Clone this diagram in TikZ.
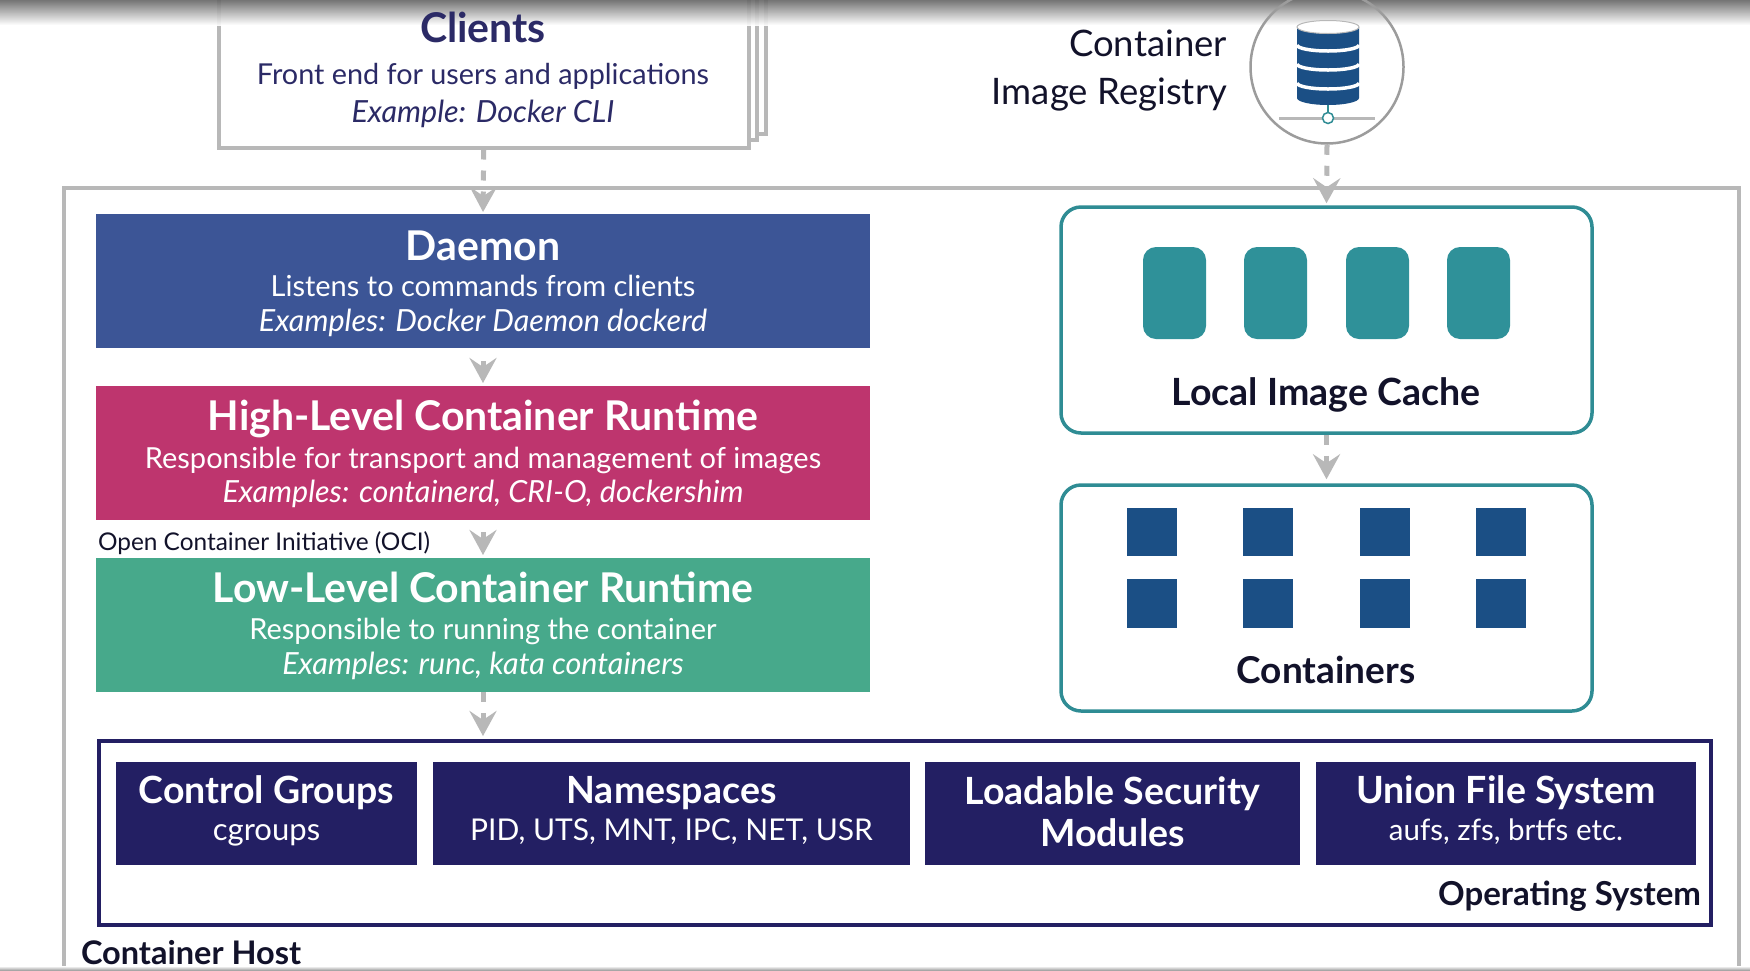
\documentclass[tikz,border=0pt]{standalone}
\usepackage{fontspec}
\setmainfont{Lato}
\usetikzlibrary{arrows.meta,shapes.geometric,fadings}
\definecolor{navy}{HTML}{231F63}
\definecolor{inktext}{HTML}{12122A}
\definecolor{clientink}{HTML}{2B2A66}
\definecolor{daemonblue}{HTML}{3C5596}
\definecolor{highred}{HTML}{BE356E}
\definecolor{lowgreen}{HTML}{47A98B}
\definecolor{tealc}{HTML}{2F8C94}
\definecolor{tealfill}{HTML}{2F9199}
\definecolor{sqblue}{HTML}{1B4F85}
\definecolor{arrowgray}{HTML}{B8B8B8}
\newcommand{\fsz}[2]{\fontsize{#1}{#2}\selectfont}
\newcommand{\ttl}[1]{{\fsz{41}{46}\bfseries #1}}
\newcommand{\sbt}[1]{{\fsz{29}{34}#1}}
\newcommand{\exm}[1]{{\fsz{30.5}{34}\itshape #1}}
\newcommand{\ostl}[1]{{\fsz{37.5}{42}\bfseries #1}}
\tikzset{
  x=1pt,y=-1pt,
  box/.style={draw=none,inner sep=0pt,outer sep=0pt,align=center,text=white,minimum width=#1,font=\fsz{29}{34.5}},
  paper/.style={draw=arrowgray,line width=3.5pt,fill=white},
  tealbox/.style={draw=tealc,line width=3.5pt,rounded corners=20pt,fill=white},
  cachecell/.style={fill=tealfill,rounded corners=13pt},
  ctrcell/.style={fill=sqblue},
  oscell/.style={fill=navy,inner sep=0pt,minimum height=103pt},
  ostext/.style={text=white,align=center,inner sep=0pt,font=\fsz{30}{37}},
  flow/.style={draw=arrowgray,line width=5pt,-{Stealth[length=25pt,width=27pt,inset=9pt]}},
  dashedflow/.style={flow,dash pattern=on 10pt off 11pt},
  lbl/.style={inner sep=0pt,outer sep=0pt},
}
\begin{document}
\begin{tikzpicture}
\useasboundingbox (0,0) rectangle (1750,970);
\fill[white] (0,0) rectangle (1750,970);
% host frame
\draw[draw=arrowgray,line width=3.5pt] (64,975) -- (64,188) -- (1739,188) -- (1739,975);
\node[lbl,anchor=base west,text=inktext,font=\fsz{32.5}{36}\bfseries] (hostlabel) at (81,964) {Container Host};
% clients stack
\draw[paper] (238,-10) rectangle (766,134);
\draw[paper] (228,-10) rectangle (757,140);
\node[paper,anchor=north west,minimum width=530pt,minimum height=156pt,inner sep=0pt] (clients) at (217,-10) {};
% camera shade
\shade[top color=black!60,bottom color=white,draw=none,opacity=.9] (0,0) rectangle (1750,25);
\shade[top color=white,bottom color=black!35,draw=none] (0,966) rectangle (1750,970);
\node[lbl,align=center,text=clientink,font=\fsz{29}{38}] (clientstext) at (483,70) {{\fsz{41}{46}\bfseries Clients}\\[4.7pt]{\fsz{28.8}{38}Front end for users and applications}\\{\fsz{30.5}{38}\itshape Example: Docker CLI}};
% registry
\node[circle,draw=arrowgray!85!black,line width=2.5pt,minimum size=153pt,inner sep=0pt] (registry) at (1327,67) {};
\node[lbl,anchor=east,align=right,text=inktext,font=\fsz{36.5}{48}] (registrytext) at (1227,71) {Container\\Image Registry};
\fill[sqblue] (1297,27) -- (1297,98) arc[start angle=180,end angle=360,x radius=31,y radius=-7] -- (1359,27) -- cycle;
\foreach \yy in {45,64,83}{
  \draw[white,line width=3.5pt] (1297,\yy) arc[start angle=180,end angle=360,x radius=31,y radius=-6];
}
\draw[arrowgray,fill=white,line width=1pt] (1328,27) ellipse[x radius=31,y radius=6.5];
\draw[arrowgray,line width=3pt] (1279,118) -- (1375,118);
\draw[tealc,line width=2pt] (1328,105) -- (1328,113);
\node[circle,draw=tealc,line width=1.5pt,fill=white,minimum size=11pt,inner sep=0pt] (port) at (1328,118) {};
% left column
\node[box=774pt,fill=daemonblue,minimum height=134pt] (daemon) at (483,281) {};
\node[lbl,align=center,text=white,font=\fsz{29}{34.5}] (daemontext) at (483,283.75) {\ttl{Daemon}\\[2pt]\sbt{Listens to commands from clients}\\\exm{Examples: Docker Daemon dockerd}};
\node[box=774pt,fill=highred,minimum height=134pt] (high) at (483,453) {};
\node[lbl,align=center,text=white,font=\fsz{29}{34.5}] (hightext) at (483,454.25) {\ttl{High-Level Container Runtime}\\[3pt]\sbt{Responsible for transport and management of images}\\\exm{Examples: containerd, CRI-O, dockershim}};
\node[box=774pt,fill=lowgreen,minimum height=134pt] (low) at (483,625) {};
\node[lbl,align=center,text=white,font=\fsz{29}{34.5}] (lowtext) at (483,625.5) {\ttl{Low-Level Container Runtime}\\[3pt]\sbt{Responsible to running the container}\\\exm{Examples: runc, kata containers}};
\node[lbl,anchor=base west,text=inktext,font=\fsz{24.4}{28}] (oci) at (98,550) {Open Container Initiative (OCI)};
% right column
\node[tealbox,minimum width=531pt,minimum height=226pt,inner sep=0pt] (cache) at (1326.5,320) {};
\foreach \xx in {1143,1244,1346,1447}{
  \fill[cachecell] (\xx,247) rectangle ++(63,92);
}
\node[lbl,text=inktext,font=\fsz{37.5}{42}\bfseries] (cachetext) at (1326,395) {Local Image Cache};
\node[tealbox,minimum width=531pt,minimum height=226pt,inner sep=0pt] (containers) at (1326.5,598) {};
\foreach \xx in {1127,1243,1360,1476}{
  \fill[ctrcell] (\xx,508) rectangle ++(50,48);
  \fill[ctrcell] (\xx,579) rectangle ++(50,49);
}
\node[lbl,text=inktext,font=\fsz{37}{42}\bfseries] (ctrtext) at (1326,670) {Containers};
% operating system
\node[draw=navy,line width=4pt,fill=white,minimum width=1612pt,minimum height=184pt,inner sep=0pt] (os) at (905,833) {};
\node[oscell,minimum width=301pt] (cg) at (266.5,813.5) {};
\node[ostext] (cgtext) at (266.5,810.5) {\ostl{Control Groups}\\{\fsz{31}{37}cgroups}};
\node[oscell,minimum width=477pt] (ns) at (671.5,813.5) {};
\node[ostext] (nstext) at (671.5,810.5) {\ostl{Namespaces}\\{\fsz{30}{37}PID, UTS, MNT, IPC, NET, USR}};
\node[oscell,minimum width=375pt] (lsm) at (1112.5,813.5) {};
\node[ostext,font=\fsz{30}{42}] (lsmtext) at (1112.5,811.5) {\ostl{Loadable Security}\\\ostl{Modules}};
\node[oscell,minimum width=380pt] (ufs) at (1506,813.5) {};
\node[ostext] (ufstext) at (1506,810.5) {\ostl{Union File System}\\{\fsz{29.5}{37}aufs, zfs, brtfs etc.}};
\node[lbl,anchor=base east,text=inktext,font=\fsz{33}{36}\bfseries] (ostext) at (1701,905) {Operating System};
% connectors
\draw[dashedflow,shorten >=2pt] (clients.south) -- (daemon.north);
\draw[dashedflow,shorten >=2pt] (registry.south) -- (cache.north);
\draw[flow,shorten <=13pt,shorten >=3pt] (daemon.south) -- (high.north);
\draw[flow,shorten <=12pt,shorten >=3pt] (high.south) -- (low.north);
\draw[dashedflow,shorten >=3pt] (low.south) -- (low.south |- os.north);
\draw[dashedflow,shorten >=4pt] (cache.south) -- (containers.north);
\end{tikzpicture}
\end{document}
